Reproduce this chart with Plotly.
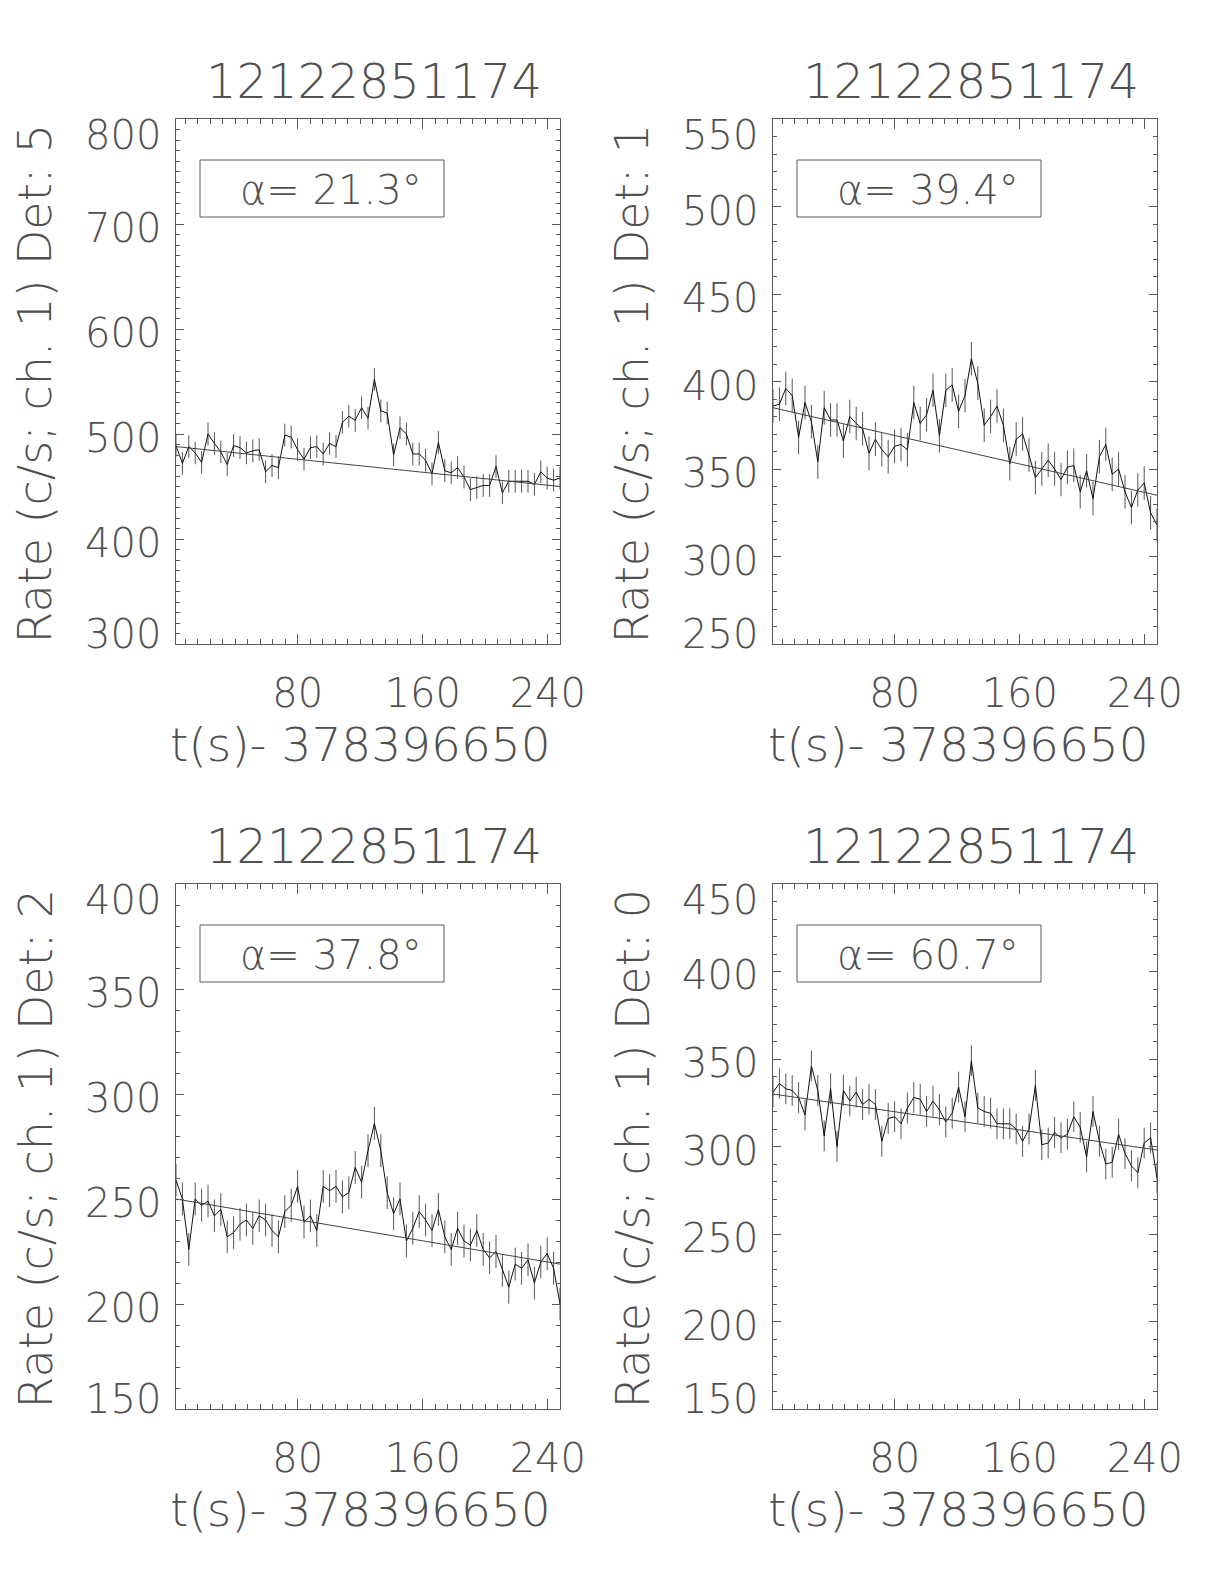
"""Four-detector light curves (IDL-style panels) rebuilt with Plotly."""

import numpy as np
import plotly.graph_objects as go

# ── Data ─────────────────────────────────────────────────────────────────────

TITLE = "12122851174"
T_OFFSET = "378396650"

# time bins (s after offset): 61 bins of 4.096 s, centred from 2.048 s
BIN_START = 2.048
BIN_WIDTH = 4.096
N_BINS = 61

DETECTORS = [5, 1, 2, 0]
ALPHAS = [21.3, 39.4, 37.8, 60.7]

rate_det5 = [489, 472, 488, 482, 473, 500, 491, 483, 471, 489,
             487, 482, 484, 485, 464, 470, 468, 499, 497, 485,
             476, 487, 488, 481, 491, 488, 511, 517, 513, 525,
             515, 552, 522, 520, 480, 506, 500, 481, 481, 475,
             462, 492, 465, 463, 468, 459, 447, 449, 451, 451,
             469, 444, 455, 455, 455, 455, 452, 464, 458, 456, 458]
rate_det1 = [386, 387, 396, 392, 368, 388, 377, 354, 385, 378,
             378, 366, 380, 376, 373, 359, 367, 361, 357, 363,
             364, 361, 388, 376, 381, 395, 369, 395, 398, 383,
             392, 413, 399, 375, 380, 386, 375, 353, 367, 370,
             358, 345, 350, 355, 350, 344, 351, 352, 337, 349,
             333, 357, 364, 347, 350, 337, 328, 338, 342, 325, 318]
rate_det2 = [259, 250, 226, 250, 247, 249, 242, 245, 232, 234,
             238, 240, 236, 242, 240, 235, 232, 244, 247, 256,
             239, 242, 235, 256, 254, 256, 251, 253, 265, 258,
             273, 286, 273, 253, 243, 250, 230, 236, 244, 240,
             235, 245, 232, 226, 236, 230, 228, 235, 226, 222,
             225, 216, 208, 219, 217, 221, 210, 220, 224, 217, 200]
rate_det0 = [331, 336, 333, 332, 328, 318, 346, 332, 306, 333,
             300, 332, 326, 331, 324, 327, 324, 303, 316, 317,
             313, 322, 328, 327, 320, 326, 321, 314, 319, 334,
             317, 349, 322, 320, 319, 313, 313, 313, 310, 303,
             310, 335, 301, 302, 308, 305, 307, 317, 311, 294,
             320, 303, 290, 291, 307, 296, 289, 285, 302, 305, 282]
RATES = [rate_det5, rate_det1, rate_det2, rate_det0]

# 1-sigma error per bin (roughly constant in each panel)
ERRORS = [10.8, 9.6, 7.8, 8.8]

# background fit: value at first and last bin
FIT_START = [488, 385, 250, 330]
FIT_END = [450, 335, 219, 298]

Y_RANGES = [[300, 800], [250, 550], [150, 400], [150, 450]]
Y_DTICK = [100, 50, 50, 50]

# ── Style ────────────────────────────────────────────────────────────────────

FONT = "DejaVu Sans"
TEXT_COLOR = "#505050"
AXIS_COLOR = "#5a5a5a"
FS = 40
FS_TITLE = 47
WEIGHT = 200

W, H = 1224, 1584
# the page body adds an 8 px margin, so frames are placed 8 px up/left
OFF = 8
# panel frames in pixels (left, right, top, bottom)
FRAMES = [(176, 560, 119, 644), (773, 1157, 119, 644),
          (176, 560, 884, 1409), (773, 1157, 884, 1409)]

t = BIN_START + BIN_WIDTH * np.arange(N_BINS)

fig = go.Figure()
annotations = []
shapes = []

for i in range(4):
    xa = "x" if i == 0 else f"x{i + 1}"
    ya = "y" if i == 0 else f"y{i + 1}"
    left, right, top, bottom = (v - OFF for v in FRAMES[i])
    xdom = [left / W, right / W]
    ydom = [1 - bottom / H, 1 - top / H]

    fig.add_trace(go.Scatter(
        x=t, y=RATES[i], xaxis=xa, yaxis=ya, mode="lines",
        line=dict(color="#111111", width=1),
        error_y=dict(type="constant", value=ERRORS[i], width=0,
                     thickness=1, color="#555555"),
        showlegend=False, hoverinfo="skip",
    ))
    fig.add_trace(go.Scatter(
        x=[t[0], t[-1]], y=[FIT_START[i], FIT_END[i]], xaxis=xa, yaxis=ya,
        mode="lines", line=dict(color="#444444", width=1),
        showlegend=False, hoverinfo="skip",
    ))

    font = dict(family=FONT, size=FS, color=TEXT_COLOR, weight=WEIGHT)
    axis_common = dict(
        showgrid=False, zeroline=False, showline=True, mirror="ticks",
        automargin=False,
        linecolor=AXIS_COLOR, linewidth=1, ticks="inside", tickcolor=AXIS_COLOR,
        tickwidth=1, tickfont=font,
    )
    fig.layout[f"xaxis{'' if i == 0 else i + 1}"] = dict(
        axis_common, domain=xdom, anchor=ya, range=[t[0], t[-1]],
        tickmode="linear", tick0=0, dtick=80, ticklen=10,
        ticklabelstandoff=14,
        minor=dict(ticks="inside", tickmode="linear", tick0=0, dtick=8,
                   ticklen=5, tickcolor=AXIS_COLOR, tickwidth=1),
    )
    fig.layout[f"yaxis{'' if i == 0 else i + 1}"] = dict(
        axis_common, domain=ydom, anchor=xa, range=Y_RANGES[i],
        tickmode="linear", tick0=0, dtick=Y_DTICK[i], ticklen=8,
        showticklabels=False,
        minor=dict(ticks="inside", tickmode="linear", tick0=0, dtick=10,
                   ticklen=4, tickcolor=AXIS_COLOR, tickwidth=1),
    )

    # y tick labels, IDL style: the end labels sit inside the frame height
    lo, hi = Y_RANGES[i]
    yticks = np.arange(lo, hi + 1, Y_DTICK[i])
    for v in yticks:
        shift = -16 if v == hi else (10 if v == lo else -4)
        annotations.append(dict(
            text=str(int(v)), xref=f"{xa} domain", yref=ya, x=0, y=v,
            xanchor="right", yanchor="middle", xshift=-13, yshift=shift,
            showarrow=False, font=font,
        ))

    cx = (left + right) / 2
    # panel title
    annotations.append(dict(
        text=TITLE, x=(cx + 6) / W, y=1 - (top - 38) / H, xref="paper", yref="paper",
        showarrow=False, xanchor="center", yanchor="middle",
        font=dict(font, size=FS_TITLE + 1),
    ))
    # x-axis title
    annotations.append(dict(
        text=f"t(s)- {T_OFFSET}", x=(cx - 7) / W, y=1 - (bottom + 100) / H,
        xref="paper", yref="paper", showarrow=False,
        xanchor="center", yanchor="middle", font=dict(font, size=FS_TITLE),
    ))
    # y-axis title
    annotations.append(dict(
        text=f"Rate (c/s; ch. 1) Det: {DETECTORS[i]}", x=(left - 141) / W,
        y=1 - ((top + bottom) / 2 + 2) / H, xref="paper", yref="paper",
        showarrow=False, textangle=-90, xanchor="center", yanchor="middle",
        font=dict(font, size=FS_TITLE - 1),
    ))
    # angle label with frame
    shapes.append(dict(
        type="rect", xref=f"{xa} domain", yref=f"{ya} domain",
        x0=24 / 384, x1=268 / 384, y0=1 - 98 / 525, y1=1 - 41 / 525,
        line=dict(color=AXIS_COLOR, width=1), fillcolor="rgba(0,0,0,0)",
    ))
    annotations.append(dict(
        text=f"α= {ALPHAS[i]}°", xref=f"{xa} domain", yref=f"{ya} domain",
        x=62 / 384, y=1 - 71 / 525, xanchor="left", yanchor="middle",
        showarrow=False, font=font,
    ))

fig.update_layout(
    template="none",
    width=W, height=H, autosize=False,
    margin=dict(l=0, r=0, t=0, b=0, pad=0, autoexpand=False),
    paper_bgcolor="white", plot_bgcolor="white",
    annotations=annotations, shapes=shapes,
)

fig.write_html("out.html")
